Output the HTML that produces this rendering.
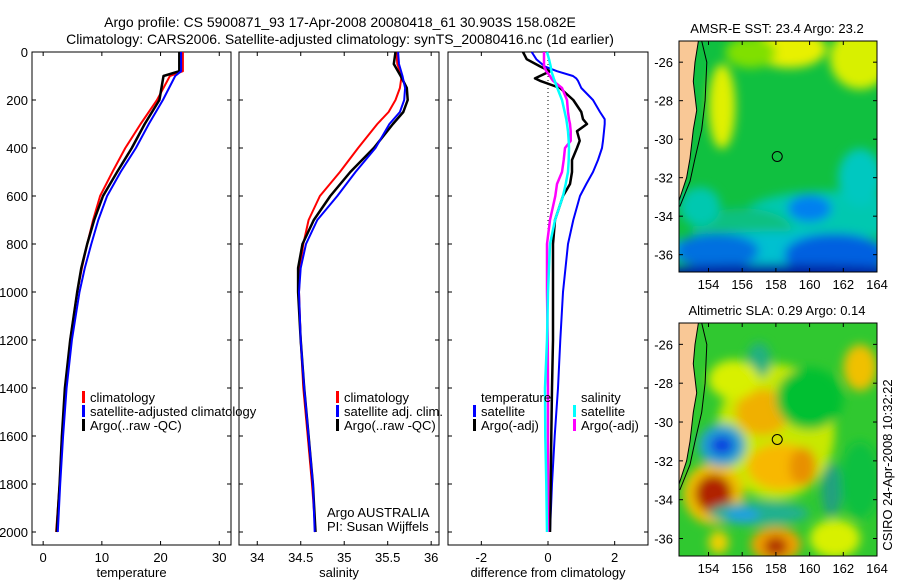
<!DOCTYPE html>
<html><head><meta charset="utf-8"><style>
body{margin:0;background:#fff;}
svg{display:block;font-family:"Liberation Sans",sans-serif;}
</style></head><body>
<svg id="s" width="900" height="580" xmlns="http://www.w3.org/2000/svg">
<defs>
<filter id="blur2" x="-20%" y="-20%" width="140%" height="140%"><feGaussianBlur stdDeviation="5"/></filter>
<clipPath id="c1"><rect x="679" y="41" width="198" height="231"/></clipPath>
<clipPath id="c2"><rect x="679" y="323" width="198" height="233"/></clipPath>
</defs>
<text x="340" y="27" font-size="14" text-anchor="middle">Argo profile: CS 5900871_93 17-Apr-2008 20080418_61 30.903S 158.082E</text>
<text x="340" y="44" font-size="14" text-anchor="middle">Climatology: CARS2006. Satellite-adjusted climatology: synTS_20080416.nc (1d earlier)</text>
<g id="maps"></g>
<g id="panels"></g>
</svg>
<script>
// ---- data ----
const depthT = [0,80,100,200,300,400,500,600,700,800,900,1000,1200,1400,1600,1800,2000];
const tempClim = [23.8,23.8,21.6,19.4,16.6,14.0,11.8,9.7,8.5,7.5,6.6,5.8,4.6,3.8,3.2,2.8,2.2];
const tempSat  = [23.5,23.5,22.5,20.4,18.0,15.8,13.2,10.9,9.4,8.2,7.1,6.2,4.9,4.0,3.4,2.9,2.5];
const tempArgo = [23.2,23.2,20.5,19.8,17.3,15.1,12.6,10.2,8.7,7.5,6.5,5.8,4.6,3.7,3.2,2.8,2.3];
const depthS = [0,50,100,150,200,250,300,400,500,600,700,800,900,1000,1200,1400,1600,1800,2000];
const salClim = [35.60,35.61,35.66,35.64,35.59,35.51,35.38,35.16,34.95,34.72,34.59,34.53,34.49,34.48,34.50,34.53,34.58,34.63,34.67];
const salSat  = [35.62,35.63,35.67,35.70,35.69,35.64,35.52,35.36,35.13,34.92,34.69,34.56,34.50,34.48,34.50,34.54,34.59,34.64,34.66];
const salArgo = [35.59,35.57,35.65,35.72,35.73,35.68,35.56,35.34,35.07,34.84,34.65,34.52,34.47,34.47,34.50,34.54,34.59,34.64,34.67];
const depthD = [0,30,60,80,100,110,120,150,200,250,280,300,330,370,400,450,500,550,600,700,800,1000,1200,1400,1600,1800,2000];
const dTempSat  = [-0.49,-0.35,-0.1,0.27,0.75,0.85,0.9,1.0,1.35,1.56,1.7,1.7,1.68,1.65,1.62,1.5,1.35,1.15,0.96,0.76,0.6,0.45,0.37,0.3,0.2,0.12,0.06];
const dTempArgo = [-0.75,-0.64,-0.24,0.06,-0.24,-0.39,-0.24,0.36,0.76,1.0,1.05,1.17,0.87,0.95,0.87,0.72,0.72,0.66,0.45,0.21,0.15,0.15,0.15,0.12,0.1,0.08,0.06];
const dSalSat   = [-0.03,0.03,0.08,0.1,0.15,0.17,0.2,0.28,0.42,0.5,0.55,0.57,0.6,0.62,0.63,0.62,0.6,0.53,0.45,0.21,0.06,0.0,-0.03,-0.09,-0.08,-0.05,-0.03];
const dSalArgo  = [-0.12,-0.12,-0.12,-0.05,0.06,0.1,0.15,0.42,0.57,0.6,0.63,0.66,0.68,0.68,0.51,0.47,0.42,0.27,0.22,0.06,-0.03,-0.03,-0.01,0.0,0.0,0.0,0.0];
const depthTicks = [0,200,400,600,800,1000,1200,1400,1600,1800,2000];
const tempTicks = [0,10,20,30];
const salTicks = [34,34.5,35,35.5,36];
const diffTicks = [-2,0,2];
const lonTicks = [154,156,158,160,162,164];
const latTicks = [-26,-28,-30,-32,-34,-36];

const NS='http://www.w3.org/2000/svg';
const P=document.getElementById('panels');
function mk(tag,attrs,parent){const e=document.createElementNS(NS,tag);for(const k in attrs)e.setAttribute(k,attrs[k]);(parent||P).appendChild(e);return e;}
const yTop=52,yBot=545;
function yD(d){return yTop+d*(532-52)/2000;}

function panel(name,x0,x1,vmin,vmax,ticks,label,showY){
  const sx=v=>x0+(v-vmin)/(vmax-vmin)*(x1-x0);
  const g=mk('g',{});
  
  
  const r=mk('rect',{x:x0,y:yTop,width:x1-x0,height:yBot-yTop,fill:'none',stroke:'#000','stroke-width':1},g);
  
  
  depthTicks.forEach(d=>{
    const y=yD(d);
    mk('line',{x1:x0,x2:x0+4,y1:y,y2:y,stroke:'#000'},g);
    mk('line',{x1:x1-4,x2:x1,y1:y,y2:y,stroke:'#000'},g);
    if(showY){const t=mk('text',{x:x0-4,y:y+5,'font-size':13,'text-anchor':'end'},g);t.textContent=d;
      
      }
  });
  ticks.forEach(v=>{
    const x=sx(v);
    mk('line',{x1:x,x2:x,y1:yTop,y2:yTop+4,stroke:'#000'},g);
    mk('line',{x1:x,x2:x,y1:yBot-4,y2:yBot,stroke:'#000'},g);
    const t=mk('text',{x:x,y:562,'font-size':13,'text-anchor':'middle'},g);t.textContent=v;
    
    
  });
  const l=mk('text',{x:(x0+x1)/2,y:577,'font-size':13,'text-anchor':'middle'},g);l.textContent=label;
  
  
  return {sx,g};
}
function line(p,depths,vals,color,w,name){
  let d='';
  vals.forEach((v,i)=>{d+=(i?'L':'M')+p.sx(v).toFixed(1)+','+yD(depths[i]).toFixed(1);});
  const e=mk('path',{d:d,fill:'none',stroke:color,'stroke-width':w,'stroke-linejoin':'round'},p.g);
  
  
}
function legend(g,x,y,color,text,name){
  if(color){const m=mk('rect',{x:x,y:y-11,width:3,height:12,fill:color},g);
    
    }
  const t=mk('text',{x:x+8,y:y,'font-size':13},g);t.textContent=text;
  
  
}

const p1=panel('temperature-panel',32,231,-1.9,32,tempTicks,'temperature',true);
line(p1,depthT,tempClim,'#f00',2,'temp-climatology-line');
line(p1,depthT,tempArgo,'#000',2.5,'temp-argo-line');
line(p1,depthT,tempSat,'#00f',2,'temp-satellite-line');
legend(p1.g,82,402,'#f00','climatology','legend-climatology');
legend(p1.g,82,416,'#00f','satellite-adjusted climatology','legend-satellite-adjusted');
legend(p1.g,82,430,'#000','Argo(..raw -QC)','legend-argo');

const p2=panel('salinity-panel',239,439,33.79,36.09,salTicks,'salinity',false);
line(p2,depthS,salClim,'#f00',2,'sal-climatology-line');
line(p2,depthS,salArgo,'#000',2.5,'sal-argo-line');
line(p2,depthS,salSat,'#00f',2,'sal-satellite-line');
legend(p2.g,336,402,'#f00','climatology','legend-sal-climatology');
legend(p2.g,336,416,'#00f','satellite adj. clim.','legend-sal-satellite');
legend(p2.g,336,430,'#000','Argo(..raw -QC)','legend-sal-argo');
legend(p2.g,319,517,null,'Argo AUSTRALIA','argo-australia-label');
legend(p2.g,319,531,null,'PI: Susan Wijffels','pi-label');

const p3=panel('difference-panel',448,648,-3,3,diffTicks,'difference from climatology',false);
const z=mk('line',{x1:p3.sx(0),x2:p3.sx(0),y1:yTop,y2:yD(800),stroke:'#000','stroke-dasharray':'1,3'},p3.g);


line(p3,depthD,dTempSat,'#00f',2,'diff-temp-satellite-line');
line(p3,depthD,dTempArgo,'#000',2.5,'diff-temp-argo-line');
line(p3,depthD,dSalArgo,'#f0f',2.5,'diff-sal-argo-line');
line(p3,depthD,dSalSat,'#0ff',2.5,'diff-sal-satellite-line');
legend(p3.g,473,402,null,'temperature','legend-temperature-heading');
legend(p3.g,473,416,'#00f','satellite','legend-diff-temp-satellite');
legend(p3.g,473,430,'#000','Argo(-adj)','legend-diff-temp-argo');
legend(p3.g,573,402,null,'salinity','legend-salinity-heading');
legend(p3.g,573,416,'#0ff','satellite','legend-diff-sal-satellite');
legend(p3.g,573,430,'#f0f','Argo(-adj)','legend-diff-sal-argo');

// ---- maps ----
const M=document.getElementById('maps');
function mapFrame(name,top,bot,title,clip,blobs,base){
  const lx=lon=>679+(lon-152.25)/(164-152.25)*198;
  const ly=lat=>top+(-24.9-lat)/(12)*(bot-top);
  const g=mk('g',{},M);
  
  
  const cg=mk('g',{'clip-path':'url(#'+clip+')'},g);
  mk('rect',{x:679,y:top,width:198,height:bot-top,fill:base},cg);
  const bg=mk('g',{filter:'url(#blur2)'},cg);
  blobs.forEach(b=>{mk('ellipse',{cx:lx(b[0]),cy:ly(b[1]),rx:b[2]*16.8,ry:b[3]*19.3,fill:b[4]},bg);});
  const land=[[152,-24.9],[153.4,-24.9],[153.2,-26],[153.1,-27],[153.3,-28.5],[153.1,-29.5],[152.9,-31],[152.7,-32],[152.4,-32.8],[152.25,-33.2],[152,-33.2]];
  const lp=mk('polygon',{points:land.map(p=>lx(p[0]).toFixed(1)+','+ly(p[1]).toFixed(1)).join(' '),fill:'#f9c896',stroke:'#000','stroke-width':1},cg);
  
  
  const shelf=[[153.6,-24.9],[153.9,-26],[153.8,-28],[153.6,-29.5],[153.2,-31],[152.9,-32.2],[152.3,-33.5]];
  mk('polyline',{points:shelf.map(p=>lx(p[0]).toFixed(1)+','+ly(p[1]).toFixed(1)).join(' '),fill:'none',stroke:'#000','stroke-width':1},cg);
  const c=mk('circle',{cx:lx(158.08),cy:ly(-30.9),r:5,fill:'none',stroke:'#000','stroke-width':1},g);
  
  
  mk('rect',{x:679,y:top,width:198,height:bot-top,fill:'none',stroke:'#000'},g);
  lonTicks.forEach(v=>{const x=lx(v);mk('line',{x1:x,x2:x,y1:top,y2:top+4,stroke:'#000'},g);mk('line',{x1:x,x2:x,y1:bot-4,y2:bot,stroke:'#000'},g);
    const t=mk('text',{x:x,y:bot+17,'font-size':13,'text-anchor':'middle'},g);t.textContent=v;
    
    });
  latTicks.forEach(v=>{const y=ly(v);mk('line',{x1:679,x2:683,y1:y,y2:y,stroke:'#000'},g);mk('line',{x1:873,x2:877,y1:y,y2:y,stroke:'#000'},g);
    const t=mk('text',{x:673,y:y+5,'font-size':13,'text-anchor':'end'},g);t.textContent=v;
    
    });
  const t=mk('text',{x:777,y:top-8,'font-size':13,'text-anchor':'middle'},g);t.textContent=title;
  
  
}
mapFrame('sst-map',41,272,'AMSR-E SST: 23.4 Argo: 23.2','c1',[
 [158.8,-25.3,2.2,1.0,'#e8f000'],[163,-25.8,1.8,1.6,'#d8f000'],[154.8,-28.3,0.8,2.2,'#e0f000'],[156.5,-25.5,1.5,0.8,'#80e000'],
 [161,-34,5,1.3,'#00c8b0'],[156,-34.8,3,1.2,'#10c080'],[158,-35.8,7,1.0,'#00c0d0'],[161.5,-36,3,1.1,'#0060e0'],[154.5,-35.8,2.5,0.9,'#0070e0'],
 [158,-37,9,0.5,'#0020a0'],[160,-33.6,1.3,0.7,'#0080f0'],[163,-32,1.3,1.5,'#00c8c0'],[153.5,-33.5,1.2,1,'#00c8b0']],'#10c040');
mapFrame('sla-map',323,556,'Altimetric SLA: 0.29 Argo: 0.14','c2',[
 [158,-30.5,3.5,3.5,'#c8e800'],[157.2,-29.5,1.6,1.2,'#f0b000'],[158.3,-32.3,2,1.2,'#f8b800'],[159.6,-32.3,0.8,1,'#e89000'],
 [154.3,-33.7,1.8,1.6,'#f0c000'],[154.3,-33.7,1.1,1.0,'#b02000'],[154.8,-31.2,1.4,1.1,'#20a0d0'],[154.8,-31.2,0.7,0.5,'#1040e0'],[157,-34.7,3,0.6,'#20b090'],[156,-34.8,1,0.4,'#20a0e0'],
 [158,-36.3,1.5,0.9,'#f0a000'],[158,-36.4,0.7,0.5,'#b03000'],[163,-27.2,1,1.2,'#f0c000'],[157,-26.8,0.7,0.9,'#20b080'],
 [160,-28.8,2,1.6,'#00c030'],[155.5,-27.8,1.5,1,'#d8f000'],[161.5,-36,1.5,1,'#d8f000'],[161.3,-33.5,0.6,1.4,'#20a080'],[163,-33,1.2,2,'#10c040'],[154.6,-36.2,0.6,0.6,'#f0d000']],'#30c830');
const cs=mk('text',{x:0,y:0,'font-size':13,'text-anchor':'middle',transform:'translate(892,465) rotate(-90)'},M);
cs.textContent='CSIRO 24-Apr-2008 10:32:22';


</script>
</body></html>
